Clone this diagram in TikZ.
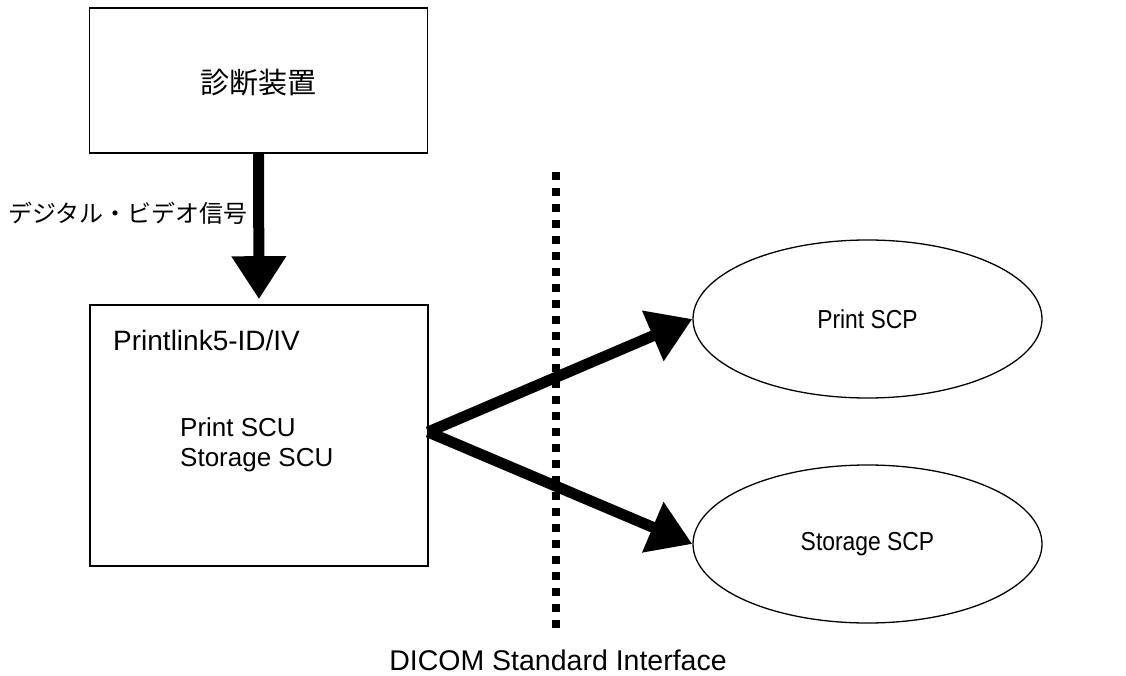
\documentclass[tikz,border=0pt]{standalone}
\usepackage{fontspec}
\setmainfont{Liberation Sans}
\newfontfamily\jpfont{Noto Sans CJK JP}
\newfontfamily\condfont[FakeStretch=0.88]{Liberation Sans}
\usetikzlibrary{arrows.meta,shapes.geometric}
\begin{document}
\begin{tikzpicture}[x=1pt,y=-1pt,
  boxst/.style={draw=black,line width=1.6pt,minimum width=338pt,inner sep=0pt},
  ellst/.style={draw=black,ellipse,line width=1.3pt,minimum width=349pt,minimum height=158pt,inner sep=0pt,font=\condfont\fontsize{26}{30}\selectfont},
  bigarrow/.style={line width=11pt,-{Triangle[length=43pt,width=52pt]}},
  txt/.style={inner sep=0pt}
]
\useasboundingbox (0,0) rectangle (1126,676);
\node[boxst,minimum height=145pt] (dev) at (258.5,80.5) {};
\node[txt,font=\jpfont\fontsize{29}{34}\selectfont] (devlbl) at (258,83) {診断装置};
\node[boxst,minimum height=261pt] (pl) at (259,435.5) {};
\node[txt,anchor=base west,font=\fontsize{28}{34}\selectfont] (pltitle) at (113,350) {Printlink5-ID/IV};
\node[txt,anchor=west,align=left,font=\fontsize{26}{30}\selectfont] (scu) at (180,445) {Print SCU\\Storage SCU};
\node[ellst] (pscp) at (867.5,319) {Print SCP};
\node[ellst] (sscp) at (867.5,544) {Storage SCP};
\draw[bigarrow,shorten >=5pt] (dev.south) -- (pl.north);
\node[txt,anchor=east,font=\jpfont\fontsize{24}{28}\selectfont] (sig) at (248,213) {デジタル・ビデオ信号};
\coordinate (fan) at (428,432);
\draw[bigarrow] (fan) -- (pscp.west);
\draw[bigarrow] (fan) -- (sscp.west);
\coordinate (dtop) at (556,172);
\coordinate (dbot) at (556,631);
\draw[line width=7.5pt,dash pattern=on 8pt off 8pt] (dtop) -- (dbot);
\node[txt,anchor=base,font=\fontsize{28.5}{34}\selectfont] (dicom) at (558,670) {DICOM Standard Interface};
\end{tikzpicture}
\end{document}
